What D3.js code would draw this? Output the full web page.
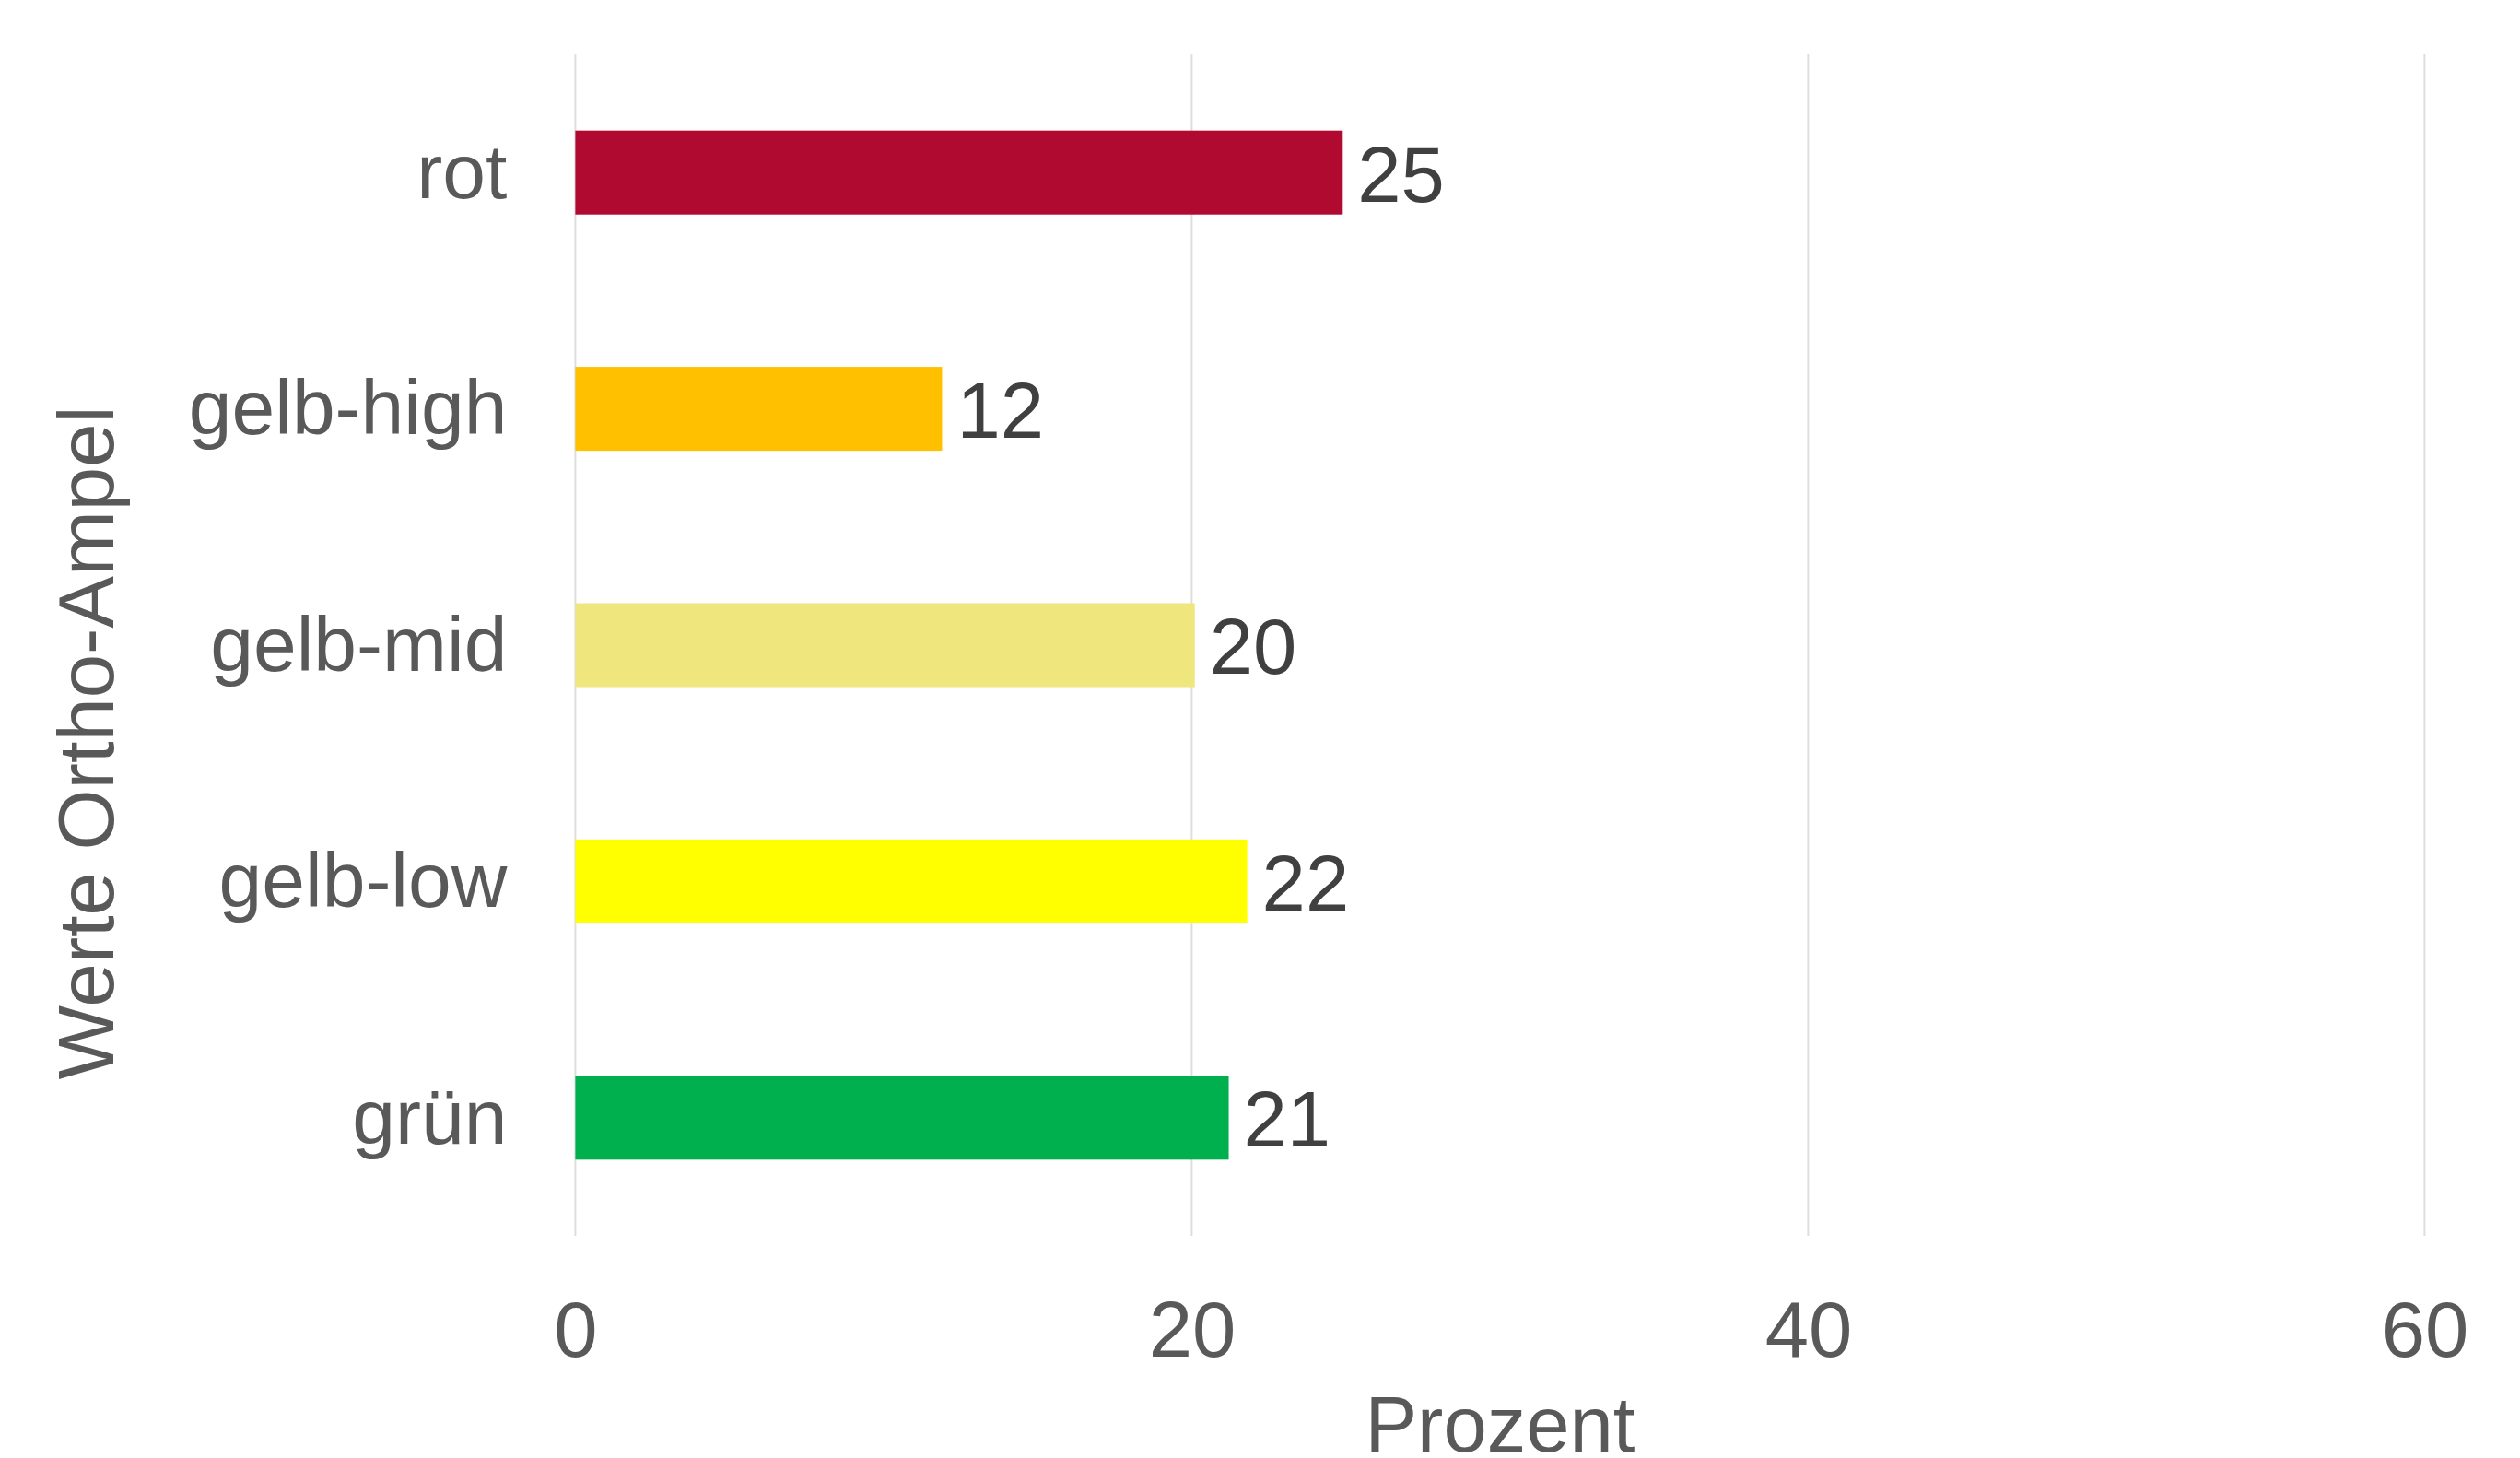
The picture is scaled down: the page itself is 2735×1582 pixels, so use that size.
<!DOCTYPE html>
<html>
<head>
<meta charset="utf-8">
<script src="https://cdn.jsdelivr.net/npm/d3@7"></script>
<style>
  body { margin: 0; background: #fff; }
  text { font-family: "Liberation Sans", Arial, sans-serif; }
</style>
</head>
<body>
<div id="chart"></div>
<script>
// data
var categories = ["rot", "gelb-high", "gelb-mid", "gelb-low", "grün"];
var values = [24.9, 11.9, 20.1, 21.8, 21.2];
var labels = ["25", "12", "20", "22", "21"];
var colors = ["#B10A31", "#FFC000", "#F0E67E", "#FFFF00", "#00B04F"];
var xTicks = [0, 20, 40, 60];

var width = 2735, height = 1582;
var plot = { left: 624.4, right: 2631.4, top: 59, bottom: 1341 };

var svg = d3.select("#chart")
	.append("svg")
	.attr("width", width)
	.attr("height", height);

var x = d3.scaleLinear()
	.domain([0, 60])
	.range([plot.left, plot.right]);

var y = d3.scaleBand()
	.domain(categories)
	.range([plot.top, plot.bottom])
	.paddingInner(0.645)
	.paddingOuter(0.3225);

//vertical gridlines
svg.selectAll(".grid")
	.data(xTicks)
	.enter().append("line")
	.attr("class", "grid")
	.attr("x1", function(d) { return x(d); })
	.attr("x2", function(d) { return x(d); })
	.attr("y1", plot.top)
	.attr("y2", plot.bottom)
	.attr("stroke", "#DEDEDE")
	.attr("stroke-width", 2);

var rows = categories.map(function(c, i) {
	return { cat: c, value: values[i], label: labels[i], color: colors[i] };
});

//bars
svg.selectAll(".bar")
	.data(rows)
	.enter().append("rect")
	.attr("class", "bar")
	.attr("x", x(0))
	.attr("y", function(d) { return y(d.cat); })
	.attr("width", function(d) { return x(d.value) - x(0); })
	.attr("height", y.bandwidth())
	.attr("fill", function(d) { return d.color; });

//value labels
svg.selectAll(".value")
	.data(rows)
	.enter().append("text")
	.attr("class", "value")
	.attr("x", function(d) { return x(d.value) + 16; })
	.attr("y", function(d) { return y(d.cat) + y.bandwidth() / 2; })
	.attr("dy", "0.37em")
	.attr("font-size", 85)
	.attr("fill", "#404040")
	.text(function(d) { return d.label; });

//y axis (category labels, no line)
var yAxis = svg.append("g")
	.attr("transform", "translate(" + (plot.left - 74) + ",0)")
	.call(d3.axisLeft(y).tickSize(0).tickPadding(0));
yAxis.select(".domain").remove();
yAxis.selectAll("text")
	.attr("font-size", 84)
	.attr("font-family", "Liberation Sans, Arial, sans-serif")
	.attr("fill", "#595959")
	.attr("dy", "0.33em");

//x axis (tick labels only)
var xAxis = svg.append("g")
	.attr("transform", "translate(0," + plot.bottom + ")")
	.call(d3.axisBottom(x).tickValues(xTicks).tickSize(0).tickPadding(0));
xAxis.select(".domain").remove();
xAxis.selectAll("text")
	.attr("font-size", 85)
	.attr("font-family", "Liberation Sans, Arial, sans-serif")
	.attr("fill", "#595959")
	.attr("dy", null)
	.attr("y", 131);

//axis titles
svg.append("text")
	.attr("x", (plot.left + plot.right) / 2)
	.attr("y", 1575)
	.attr("text-anchor", "middle")
	.attr("font-size", 85)
	.attr("fill", "#595959")
	.text("Prozent");

svg.append("text")
	.attr("transform", "translate(123,806) rotate(-90)")
	.attr("text-anchor", "middle")
	.attr("font-size", 85)
	.attr("fill", "#595959")
	.text("Werte Ortho-Ampel");
</script>
</body>
</html>
